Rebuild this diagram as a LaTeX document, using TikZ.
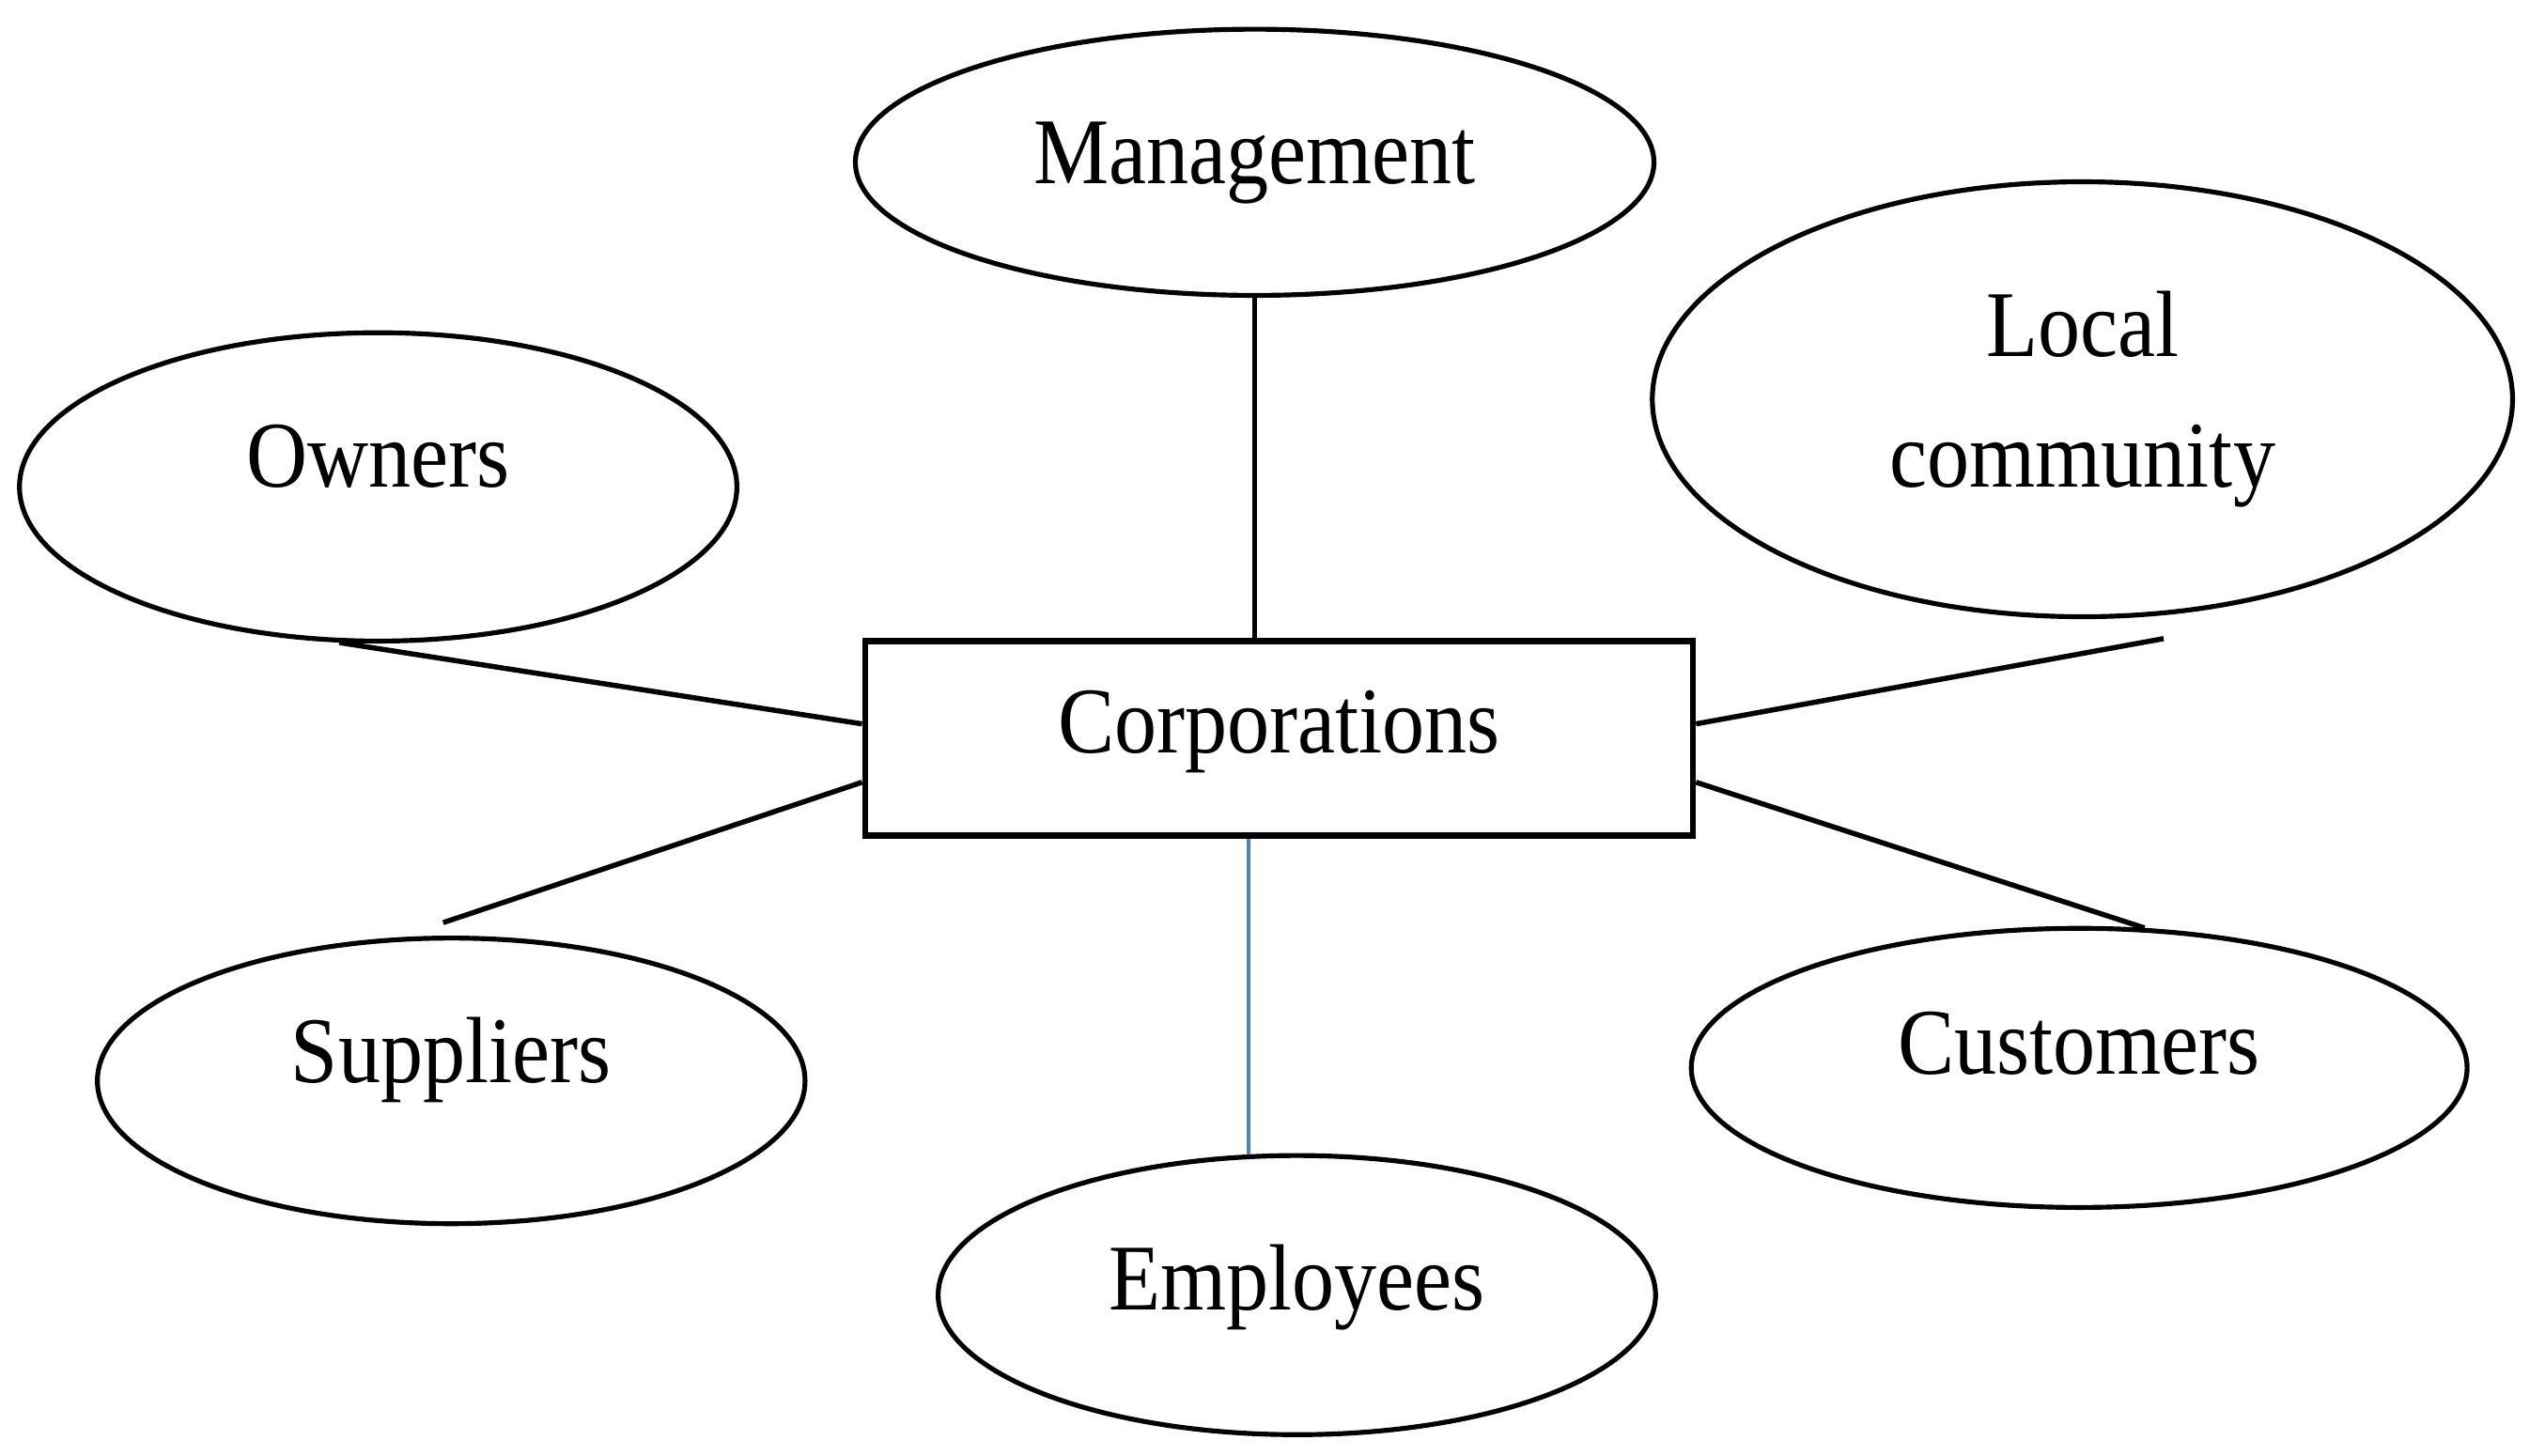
\documentclass[tikz,border=0pt]{standalone}
\usepackage{fontspec}
\setmainfont{Liberation Serif}[FakeStretch=0.9]
\usetikzlibrary{shapes.geometric}
\definecolor{linkblue}{RGB}{79,129,189}
\tikzset{
  lab/.style={font=\fontsize{16.5}{23}\selectfont, inner sep=0pt},
  bubble/.style={lab, ellipse, draw, line width=0.85pt},
  box/.style={lab, rectangle, draw, line width=1.1pt},
  link/.style={line width=0.9pt},
  bluelink/.style={line width=0.7pt, draw=linkblue},
}
\begin{document}
\begin{tikzpicture}
\useasboundingbox (0,0) rectangle (15.68,-8.97);
\node[bubble, minimum width=4.92cm, minimum height=1.64cm, text height=0.42cm, text depth=0.16cm] (mgmt) at (7.73,-1.00) {Management};
\node[bubble, minimum width=5.30cm, minimum height=2.68cm, align=center] (local) at (12.83,-2.46) {Local\\community};
\node[bubble, minimum width=4.42cm, minimum height=1.90cm, text height=0.42cm, text depth=0.42cm] (owners) at (2.33,-3.00) {Owners};
\node[box, minimum width=5.10cm, minimum height=1.20cm, text height=0.42cm, text depth=0.24cm] (corp) at (7.88,-4.55) {Corporations};
\node[bubble, minimum width=4.36cm, minimum height=1.76cm, text height=0.42cm, text depth=0.40cm] (sup) at (2.78,-6.66) {Suppliers};
\node[bubble, minimum width=4.78cm, minimum height=1.72cm, text height=0.42cm, text depth=0.34cm] (cust) at (12.81,-6.58) {Customers};
\node[bubble, minimum width=4.42cm, minimum height=1.72cm, text height=0.42cm, text depth=0.24cm] (emp) at (7.99,-7.98) {Employees};
\coordinate (supend) at ([xshift=-0.05cm, yshift=0.08cm]sup.north);
\coordinate (localend) at ([xshift=0.50cm, yshift=-0.12cm]local.south);
\draw[link] (mgmt.south) -- (mgmt.south |- corp.north);
\draw[link] (owners.256) -- (corp.178);
\draw[link] (corp.186) -- (supend);
\draw[link] (corp.2) -- (localend);
\draw[link] (corp.-6) -- (cust.65);
\draw[bluelink] (emp.109 |- corp.south) -- (emp.109);
\end{tikzpicture}
\end{document}
